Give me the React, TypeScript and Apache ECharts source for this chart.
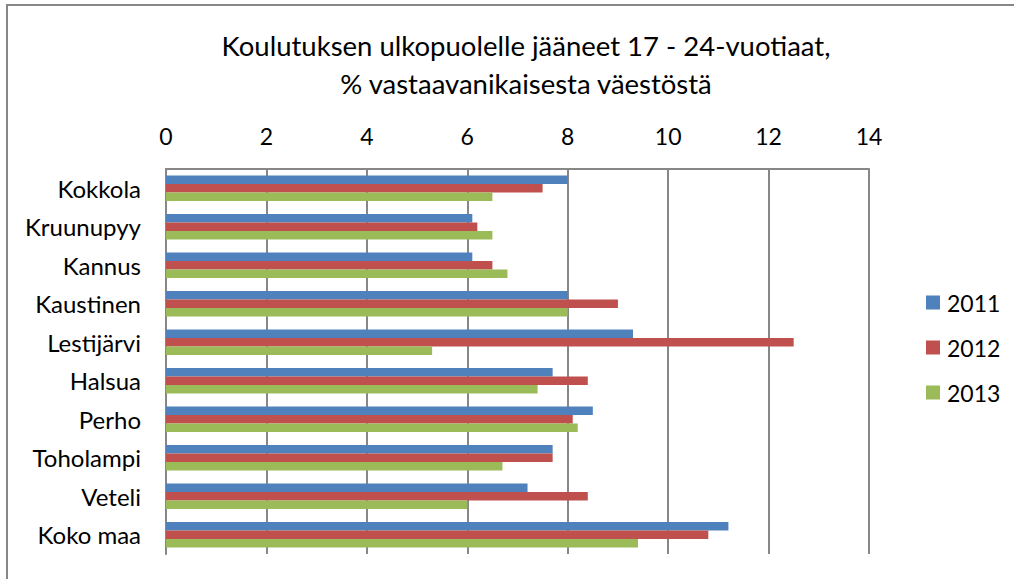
import React, { useEffect, useRef } from "react";
import * as echarts from "echarts";

const categories = [
  "Kokkola",
  "Kruunupyy",
  "Kannus",
  "Kaustinen",
  "Lestijärvi",
  "Halsua",
  "Perho",
  "Toholampi",
  "Veteli",
  "Koko maa",
];
const seriesNames = ["2011", "2012", "2013"];
const values2011 = [8.0, 6.1, 6.1, 8.0, 9.3, 7.7, 8.5, 7.7, 7.2, 11.2];
const values2012 = [7.5, 6.2, 6.5, 9.0, 12.5, 8.4, 8.1, 7.7, 8.4, 10.8];
const values2013 = [6.5, 6.5, 6.8, 8.0, 5.3, 7.4, 8.2, 6.7, 6.0, 9.4];
const colors = ["#4F81BD", "#C0504D", "#9BBB59"];
const titleText = "Koulutuksen ulkopuolelle jääneet 17 - 24-vuotiaat,\n% vastaavanikaisesta väestöstä";

const FONT = "Lato";

export default function App() {
  const ref = useRef<HTMLDivElement>(null);
  useEffect(() => {
    if (!ref.current) return;
    const chart = echarts.init(ref.current, null, { renderer: "svg" });
    const allValues = [values2011, values2012, values2013];
    chart.setOption({
      animation: false,
      backgroundColor: "#ffffff",
      title: {
        text: titleText,
        left: 521,
        textAlign: "center",
        top: 21,
        textStyle: {
          fontFamily: FONT,
          fontSize: 27.5,
          fontWeight: "normal",
          color: "#000",
          lineHeight: 38,
        },
      },
      legend: {
        orient: "vertical",
        left: 921,
        top: 286,
        itemWidth: 14,
        itemHeight: 14,
        itemGap: 22,
        icon: "rect",
        textStyle: { fontFamily: FONT, fontSize: 23, color: "#000", padding: [0, 0, 0, 2] },
        data: seriesNames,
      },
      grid: {
        left: 166,
        top: 169,
        width: 703,
        height: 385,
        containLabel: false,
      },
      xAxis: {
        type: "value",
        position: "top",
        min: 0,
        max: 14,
        interval: 2,
        axisLine: { show: true, lineStyle: { color: "#878787", width: 2 } },
        axisTick: { show: false },
        axisLabel: {
          fontFamily: FONT,
          fontSize: 23,
          color: "#000",
          margin: 22,
        },
        splitLine: { show: true, lineStyle: { color: "#878787", width: 2 } },
      },
      yAxis: {
        type: "category",
        data: categories,
        inverse: true,
        axisLine: { show: true, onZero: false, lineStyle: { color: "#878787", width: 2 } },
        axisTick: { show: false },
        axisLabel: {
          fontFamily: FONT,
          fontSize: 24,
          color: "#000",
          margin: 25,
        },
        splitLine: { show: false },
      },
      graphic: [
        {
          type: "rect",
          shape: { x: 7, y: 5, width: 1030, height: 600 },
          style: { fill: "none", stroke: "#878787", lineWidth: 2 },
          silent: true,
        },
      ],
      series: seriesNames.map((name, i) => ({
        name,
        type: "bar",
        data: allValues[i],
        barWidth: 8.5,
        barGap: "0%",
        barCategoryGap: "34%",
        itemStyle: { color: colors[i] },
      })),
    });
    return () => chart.dispose();
  }, []);
  return (
    <div
      ref={ref}
      style={{ position: "fixed", left: 0, top: 0, width: 1014, height: 579 }}
    />
  );
}
